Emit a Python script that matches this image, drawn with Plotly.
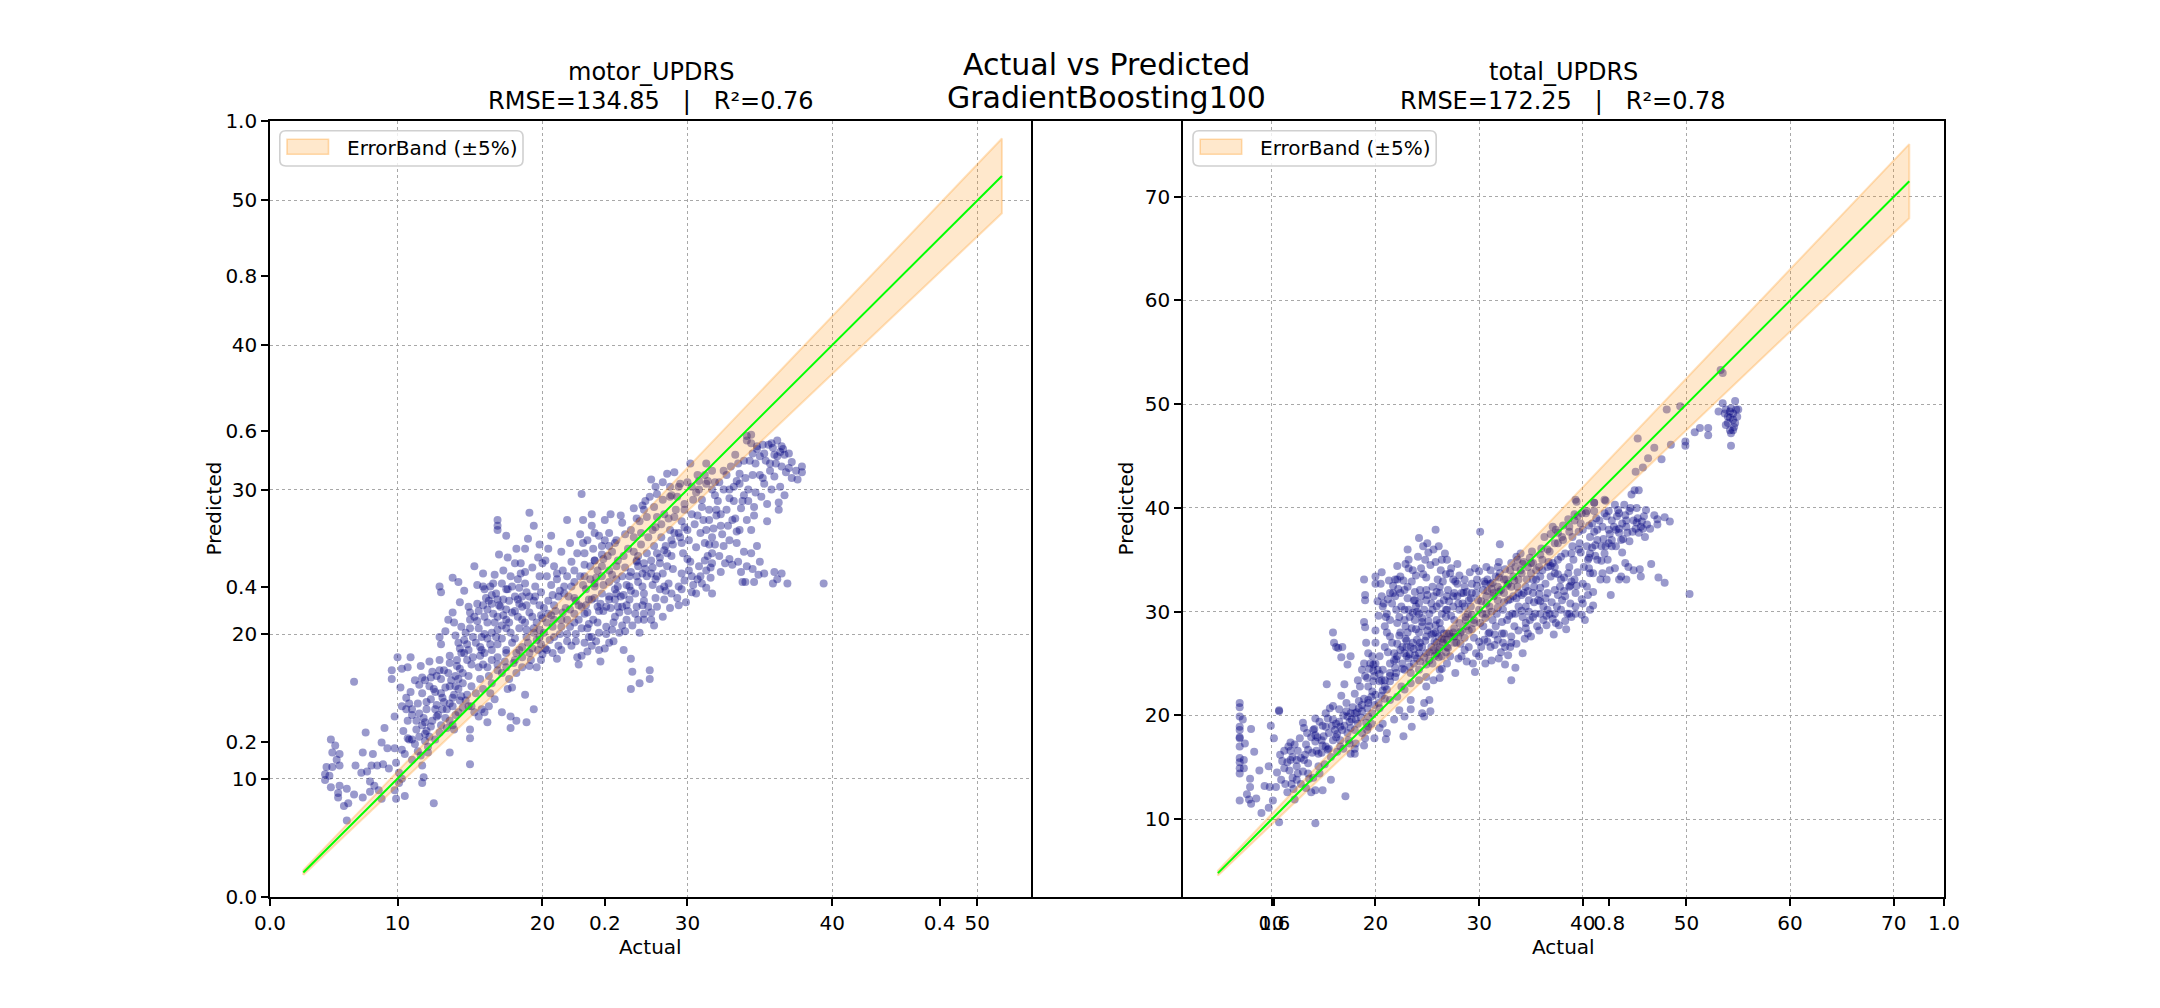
import plotly.graph_objects as go

W, H = 2160, 1008
FONT = "DejaVu Sans"

# ---------------- data ----------------
motor_pairs = [
(5.4,12.7),(5.7,12.3),(5.5,11.8),(6.0,11.7),(5.8,11.3),(5.1,10.8),(5.5,10.8),(6.0,10.9),(5.0,10.3),(5.3,10.2),(5.0,9.9),(5.4,9.4),(6.0,9.5),(5.9,9.0),(5.9,8.7),(6.5,9.3),(6.3,8.1),(6.6,8.3),(6.5,7.1),(7.0,8.9),(7.0,16.7),(7.6,8.7),(7.1,10.9),(7.6,11.8),(7.8,13.2),(7.5,10.4),(7.9,10.5),(8.2,10.9),(8.6,10.9),(9.0,11.0),(9.4,10.7),(8.3,11.7),(8.1,9.8),(8.4,9.5),(8.7,9.2),(8.1,9.1),(8.9,8.6),(8.9,12.5),(9.1,13.5),(9.3,12.1),(9.6,17.5),(9.6,16.9),(9.8,14.3),(9.8,12.1),(9.9,11.1),(9.8,9.2),(9.9,8.6),
(10.0,18.4),(10.3,17.6),(10.7,17.7),(10.9,18.4),(10.1,10.4),(10.3,10.0),(10.5,8.8),(10.4,13.3),(10.6,14.8),(10.7,14.0),(10.8,12.7),(10.3,12.0),(11.0,14.4),(11.2,12.4),(11.5,14.5),(11.6,17.8),(11.7,17.0),(11.8,10.1),(11.7,9.7),(12.5,8.3),(12.0,14.8),(11.9,13.9),(12.0,13.3),(11.9,13.1),(11.4,11.9),(11.6,11.6),(12.1,12.2),(12.2,18.1),(12.4,17.4),(12.5,16.2),(12.7,15.1),(12.9,18.2),(12.9,17.5),(13.0,16.9),(12.9,19.8),(13.0,19.3),(13.1,15.6),(13.1,14.8),(13.0,13.7),(13.6,18.5),(13.5,17.3),(13.6,16.4),(13.8,15.6),(13.8,15.0),(13.6,11.8),(13.8,21.5),(13.9,20.8),(14.0,19.9),(14.2,19.4),(14.1,17.8),(14.2,16.9),(14.2,16.2),(14.3,15.4),(14.5,14.9),(14.0,14.4),(13.8,13.7),(12.9,23.3),(13.0,22.9),(13.8,23.9),(14.2,23.6),(14.4,20.5),(14.6,18.7),(14.9,21.9),(15.0,21.5),(15.0,21.0),(14.9,18.9),(14.8,18.2),(14.9,17.1),(14.8,15.8),(14.9,15.0),(15.0,13.4),(15.0,12.8),(15.0,11.0),
(15.5,23.4),(15.5,22.1),(15.5,20.9),(15.7,19.1),(15.7,18.5),(15.6,17.7),(15.7,16.9),(15.6,14.3),(15.9,23.3),(16.1,22.5),(16.2,21.7),(16.2,20.8),(16.2,19.7),(16.2,17.7),(16.3,17.1),(16.3,15.0),(16.2,13.9),(16.4,23.3),(16.7,24.1),(16.8,22.8),(16.9,27.9),(16.9,27.5),(16.9,27.2),(17.0,25.5),(16.9,21.2),(16.9,20.3),(16.9,19.3),(16.9,18.4),(16.9,17.5),(16.7,15.5),(17.2,23.5),(17.3,22.4),(17.5,26.8),(17.6,23.1),(17.5,21.7),(17.5,20.4),(17.5,18.9),(17.4,18.1),(17.2,14.6),(17.8,14.3),(17.8,13.5),(17.6,16.2),(17.9,16.3),(18.1,24.9),(18.1,22.6),(18.1,21.6),(18.1,19.7),(18.2,18.7),(18.2,14.0),(18.5,24.2),(18.5,24.9),(18.6,22.6),(18.6,21.0),(18.8,15.8),(18.8,25.9),(18.8,23.5),(18.9,13.9),(18.9,22.0),(19.0,19.4),(19.1,28.4),(19.1,22.6),(19.1,21.5),(19.4,14.8),(19.4,27.5),(19.5,22.6),(19.6,20.8),(19.6,19.6),(19.7,18.9),(19.8,24.0),(19.9,22.9),(20.0,24.9),
(20.1,21.8),(20.1,20.1),(20.2,19.0),(20.4,25.9),(20.4,22.3),(20.6,21.3),(20.7,20.5),(20.8,19.8),(20.8,24.7),(21.0,23.8),(21.1,22.6),(21.1,19.2),(21.3,21.0),(21.4,24.4),(21.5,23.3),(21.6,21.8),(21.7,27.9),(21.7,20.0),(21.9,26.3),(22.0,25.0),(22.2,23.6),(22.2,22.5),(22.2,20.8),(22.3,19.5),(22.4,18.4),(22.5,17.9),(22.7,29.7),(22.8,26.3),(22.8,27.9),(22.9,25.6),(22.9,24.8),(23.0,23.1),(23.1,21.5),(23.1,20.4),(23.2,19.8),(23.4,28.3),(23.4,19.2),(23.5,25.9),(23.6,25.1),(23.6,27.0),(23.7,23.9),(23.8,21.9),(23.8,20.8),(24.0,18.1),(24.1,26.1),(24.1,24.7),(24.2,23.4),(24.2,21.6),(24.3,27.9),(24.4,20.0),(24.5,25.4),(24.6,22.6),(24.6,27.0),(24.7,28.3),(24.8,24.1),(24.9,19.5),(25.0,26.3),(25.0,21.2),(25.1,24.7),(25.2,23.3),(25.3,20.1),(25.4,28.2),(25.5,27.7),(25.6,18.9),(25.6,25.4),(25.7,20.2),(25.8,22.0),(25.9,25.9),(26.0,24.0),(26.1,18.3),(26.2,17.4),(26.1,16.2),(26.3,26.7),(26.3,28.7),(26.4,22.8),(26.5,25.1),(26.6,21.0),(26.6,24.7),(26.7,20.1),(26.7,16.6),(26.8,27.0),(26.9,23.3),(27.0,28.6),(27.0,22.3),(27.1,29.2),(27.2,25.6),(27.3,21.9),(27.4,17.5),(27.4,16.9),(27.5,30.7),(27.5,24.2),(27.5,21.5),(27.6,27.2),(27.7,26.1),(27.8,23.8),(27.9,29.7),(27.9,28.1),(28.1,24.9),(28.1,23.1),(28.2,26.7),(28.3,24.2),(28.4,28.3),(28.5,26.1),(28.6,31.1),(28.6,24.7),(28.7,23.5),(28.8,29.5),(28.8,27.2),(28.9,25.4),(29.1,31.2),(29.1,27.0),(29.2,28.6),(29.4,22.0),(29.5,30.4),(29.6,24.2),(29.6,26.3),(29.6,23.1),(29.7,25.6),(29.8,28.6),
(30.0,25.2),(30.1,26.5),(30.1,24.4),(30.2,31.8),(30.3,22.9),(30.4,29.3),(30.6,22.8),(30.7,28.2),(30.8,30.6),(30.9,27.0),(31.0,29.3),(31.0,23.5),(31.1,27.9),(31.2,25.1),(31.3,23.2),(31.4,30.6),(31.5,28.6),(31.5,26.2),(31.6,24.6),(31.7,22.8),(31.7,25.6),(31.9,29.6),(31.9,30.5),(32.0,28.2),(32.1,29.2),(32.3,27.5),(32.5,30.0),(32.6,24.9),(32.9,30.0),(33.1,27.9),(33.1,24.8),(33.2,29.2),(33.3,32.4),(33.4,27.1),(33.5,31.8),(33.6,31.1),(33.7,24.3),(33.8,29.2),(33.9,29.6),(34.0,23.6),(34.1,24.7),(34.1,33.4),(34.2,30.0),(34.4,27.2),(34.4,33.8),(34.5,32.5),(34.6,28.2),(34.6,23.6),(34.7,31.8),(34.8,32.8),(34.9,24.1),(35.0,31.0),(35.2,33.1),(35.3,30.4),(35.4,32.0),(35.5,27.8),(35.6,33.1),(35.7,31.3),(35.8,33.2),(35.9,23.5),(36.0,24.3),(36.0,30.9),(36.1,31.8),(36.2,33.4),(36.3,28.6),(36.3,29.1),(36.4,32.6),(36.5,31.6),(36.5,24.2),(36.6,32.8),(36.7,29.6),(36.7,32.4),(36.9,23.5),(37.0,32.5),(37.2,30.8),(37.6,30.7),(37.9,31.6),(37.9,31.2),(39.4,23.5),
(16.9,17.9),(17.5,17.7),(18.1,18.2),(18.4,18.9),(18.9,19.8),(19.4,20.4),(20.0,21.1),(20.8,22.0),(21.5,22.8),(22.0,23.3),(22.6,24.0),(23.3,24.7),(23.6,25.1),(24.1,25.5),(24.6,26.1),(25.1,26.5),(25.7,26.9),(26.1,27.2),(26.7,27.8),(27.2,28.1),(27.7,28.8),(28.3,29.3),(28.9,29.6),(29.4,30.2),(30.0,30.5),(30.6,29.8),(31.3,30.4),(34.1,33.7),(34.4,33.2),
(26.1,24.3),(26.5,25.0),(26.6,25.4),(26.9,24.2),(27.2,24.0),(27.6,23.4),(27.9,24.0),(28.4,23.3),(27.0,22.8),(25.8,23.4),(25.4,22.6),(25.0,22.4),(24.4,21.9),(23.9,21.6),(23.5,21.0),(23.2,20.7),(22.7,20.4),(22.3,20.0),(21.7,19.5),(21.3,18.9),(20.7,18.7),(20.3,18.9),
(16.5,22.1),(17.1,21.9),(17.7,22.3),(18.3,22.4),(18.6,21.9),(17.9,21.5),(17.5,21.0),(16.7,20.8),(16.0,21.2),(15.6,20.4),(15.2,19.8),(14.6,19.6),(14.4,18.7),(14.1,18.2),(13.6,18.0),(13.2,17.5),(12.7,17.1),(12.2,16.4),(11.7,15.9),(11.4,15.2),(11.0,14.8),(12.3,15.5),(12.8,14.4),(13.4,14.8),(13.6,15.2),(14.0,16.4),(14.5,16.6),
(10.7,12.8),(11.0,12.7),(11.5,12.9),(11.9,12.6),(12.2,12.9),(12.6,12.7),(11.3,13.4),(11.7,13.7),(12.4,14.0),(12.7,14.3),(13.3,14.2),(13.6,14.0),(13.9,13.4),(12.1,11.8),(11.7,10.9),(11.0,11.3),(10.5,11.7),(10.1,9.7),
(14.4,15.7),(14.7,15.4),(15.1,15.0),(15.3,14.6),(15.8,14.8),(16.0,14.6),(15.1,16.4),(15.4,15.9),(15.9,16.2),(16.4,15.9),(16.5,16.6),(14.5,17.3),(15.1,17.9),(15.9,17.9),(16.5,18.2),(17.2,17.3),(17.7,16.9),(18.2,17.3),(18.6,17.7),(19.1,17.8),(19.6,17.7),(19.9,18.2),
(16.0,23.1),(16.5,22.7),(17.5,23.1),(17.9,23.3),(18.4,23.2),(18.9,22.9),(19.4,22.3),(19.8,22.0),(17.7,20.8),(18.4,20.4),(18.9,20.3),(19.4,20.1),(19.8,20.3),(16.5,20.1),(15.8,19.8),(17.2,19.7),(17.9,19.4),(18.6,19.1),(19.1,18.7),(17.5,18.7),(16.5,18.9),(16.0,18.7),
(20.3,24.0),(21.0,24.2),(21.7,24.0),(22.2,24.4),(22.9,24.0),(23.6,23.5),(24.1,22.8),(24.6,22.4),(25.1,22.8),(25.5,21.9),(26.0,22.4),(26.5,21.9),(27.0,21.4),(27.5,21.0),(27.9,21.9),(28.4,22.4),(28.9,22.8),(29.4,23.3),(29.8,23.7),(30.3,24.0),(30.8,24.7),(31.3,24.4),(31.7,24.9),(32.2,25.4),(32.5,26.1),(32.9,26.5),(33.4,26.3),(33.9,25.7),(34.4,25.6),(34.8,26.1),(33.6,27.2),(34.1,27.9),(34.6,28.8),(35.1,29.5),(35.5,29.0),(35.8,30.0),(36.4,30.2),(32.7,28.6),(33.2,30.2),(33.6,30.4),(32.5,31.3),(31.7,31.3),(31.3,31.8),(30.8,30.0),(30.3,28.3),(29.8,27.4),(29.4,27.0),(28.9,26.5),(28.4,25.8),(27.9,25.6),(27.5,25.1),(27.0,24.9),(26.5,24.0),(26.0,23.3),(25.5,24.0),(25.1,23.8),(24.6,24.4),(24.1,24.0),(23.6,23.3),(23.2,22.4),(22.7,21.9),(22.2,21.4),(21.7,21.0),(21.3,20.5),(20.8,21.0),(20.3,20.8),(19.8,19.8),(23.4,22.4),(23.9,20.1),(24.4,20.5),(24.9,20.8),(25.3,21.5),(25.8,21.0),(23.4,19.8),(22.9,19.4),(23.9,18.9),(24.6,19.4),(31.7,26.7),(31.3,27.2),(30.5,27.6),(31.0,28.8),(32.0,28.6),(31.5,27.9),
(11.5,16.5),(11.9,16.8),(12.3,17.0),(12.6,16.0),(13.0,15.9),(13.3,16.3),(13.7,16.8),(14.0,17.1),(14.3,17.6),(12.0,15.3),(12.6,14.8),(13.2,15.3),(13.9,15.8),(14.2,14.6),(11.3,14.0),(11.8,14.2),(12.3,13.6),(12.9,13.2),(13.4,13.5),(10.9,16.0),(11.2,16.8),(10.6,15.6),(10.3,15.0),(10.2,16.3),(10.8,15.2),
(14.3,19.0),(14.7,20.1),(15.0,20.4),(15.3,21.2),(15.6,21.6),(15.9,22.0),(16.3,22.3),(16.6,21.4),(16.0,20.0),(15.4,19.4),(14.8,19.3),(15.2,18.4),(15.8,18.9),(16.4,19.3),(16.8,19.8),(17.2,20.6),(17.0,22.0),(16.6,23.5),(15.9,24.2),(15.3,24.7),(14.6,23.0),(14.3,22.2),(13.5,21.0),(13.3,20.2),
(17.3,24.4),(17.8,24.0),(18.3,23.8),(18.8,24.3),(19.3,24.6),(19.7,25.3),(20.2,25.1),(20.6,23.4),(21.2,23.0),(21.8,22.6),(21.4,21.5),(20.9,21.6),(20.4,21.4),(19.9,21.3),(19.3,21.2),(18.8,20.8),(18.3,21.2),(17.8,20.1),(18.0,18.0),(18.6,18.4),(19.3,19.0),(19.9,19.3),(20.5,19.6),(21.2,20.0),(21.9,20.5),(22.5,21.0),(22.9,21.4),(22.3,22.3),(21.9,21.7),(20.7,22.7),(19.5,23.3),(18.4,22.1),(17.3,21.3),(16.9,22.4),(17.6,25.3),(18.2,25.9),(19.0,26.6),(19.8,26.2),(20.6,26.8),(21.3,25.7),(20.0,18.6),(19.2,18.2),(22.0,19.2),(21.0,18.3),
(22.4,25.6),(22.6,26.9),(23.1,26.5),(23.4,27.5),(23.9,26.8),(24.3,26.5),(24.8,25.7),(25.2,25.1),(25.7,24.6),(26.3,25.7),(26.8,26.2),(27.3,26.7),(27.8,27.4),(28.2,27.6),(28.7,28.0),(29.1,28.1),(29.6,27.8),(30.0,27.2),(29.5,26.7),(29.0,26.2),(28.6,25.6),(28.1,25.3),(27.6,24.6),(27.1,24.5),(26.6,23.6),(26.1,23.0),(25.6,22.7),(25.0,23.1),(24.6,23.6),(24.2,25.2),(23.8,24.4),(23.3,23.8),(22.8,23.4),(22.5,22.0),(23.0,22.0),(23.6,22.5),(24.0,22.1),(24.7,21.8),(25.2,21.9),(25.9,21.6),(26.4,21.4),(27.0,21.0),(27.7,20.6),(28.3,21.2),(28.8,21.8),(29.3,22.5),(29.9,22.2),(30.4,23.4),(30.9,24.0),(31.4,25.4),(31.9,26.2),(32.4,26.9),(32.8,27.5),(33.3,28.0),(33.7,28.7),(34.2,29.2),(34.7,29.8),(35.2,30.8),(35.7,31.8),(36.2,32.3),(36.8,31.2),(37.2,31.9),(35.9,32.9),(35.0,32.3),(34.5,31.0),(34.0,30.8),(33.4,30.6),(32.9,29.4),(32.3,28.3),(31.8,27.3),(31.2,26.3),(30.6,26.0),(30.2,25.0),(30.7,23.8),(31.6,23.9),(32.3,24.3),(32.9,25.2),(33.5,25.0),(34.5,24.5),(35.3,24.2),(35.0,25.0),(33.8,23.6),(36.2,23.8),(29.0,24.5),(28.5,23.0),(27.8,22.5),(26.9,22.0),(26.2,20.6),(25.5,20.6),(24.8,20.3),(24.3,19.0),(23.7,19.5),(23.1,18.8),(22.7,18.5),
(26.5,28.0),(26.9,28.9),(27.4,29.5),(27.8,30.2),(28.3,30.5),(28.8,30.2),(29.3,29.5),(29.8,29.0),(30.3,30.2),(30.7,31.0),(31.2,31.0),(31.7,30.0),(32.2,30.5),(32.7,31.0),(33.0,31.6),(33.9,32.0),(34.3,32.0),(34.8,33.0),(35.3,32.5),(36.0,32.4),(36.5,33.0),(37.0,31.5),(37.5,31.3),
]

total_pairs = [
(6.9,21.2),(6.9,20.8),(6.9,19.9),(6.9,18.9),(6.9,18.6),(6.9,17.9),(6.9,17.8),(6.9,17.0),(6.9,15.9),(6.9,15.5),(6.9,14.9),(6.9,14.4),(7.3,15.7),(7.3,14.9),(6.9,11.8),(8.0,18.7),(7.9,13.9),(7.9,13.1),(8.0,11.5),(7.6,12.4),(7.8,11.9),
(9.9,19.0),(10.2,17.8),(9.7,15.1),(9.3,13.2),(9.8,13.1),(10.4,13.1),(9.7,11.1),(10.7,9.7),(10.7,20.5),(10.7,20.4),
(11.2,16.6),(11.8,16.6),(11.8,17.4),(12.5,16.6),(11.2,14.9),(11.7,14.7),(11.3,13.4),(11.9,13.4),(12.2,11.9),(12.4,15.1),(12.5,14.4),(13.0,19.3),(13.1,18.8),(13.2,16.2),(13.1,15.7),(13.6,13.9),(13.5,16.7),(13.8,17.9),(14.2,12.8),(13.8,12.6),(14.2,9.6),(14.2,19.7),(14.1,18.7),(14.2,18.1),(14.2,17.5),(14.6,19.4),(14.8,17.6),(14.9,17.1),(14.3,16.6),(14.8,16.4),(15.3,23.0),(15.2,18.9),(15.4,16.7),(15.7,13.8),(14.9,12.8),(15.5,16.8),(15.6,20.7),(15.9,28.0),(16.0,27.0),(16.2,26.6),(16.4,26.5),(16.8,26.6),(16.7,25.6),(16.1,18.6),(16.2,17.9),(16.2,19.2),(16.5,19.4),(16.6,17.6),(17.0,23.0),(16.7,21.9),(16.9,20.0),(17.1,12.2),(17.2,20.4),(17.6,25.7),(17.3,24.9),(17.6,20.2),(17.5,19.4),(17.5,17.3),(17.7,19.6),(18.0,20.2),(18.1,17.3),(18.0,16.3),(18.0,16.8),(18.2,20.3),(18.4,20.7),(18.5,22.8),(18.7,20.4),(18.9,33.1),(19.0,31.6),(19.0,31.1),(18.9,29.0),(19.0,28.5),(19.1,27.0),(18.9,25.0),(19.0,23.8),(19.2,23.6),(19.3,21.2),(19.2,20.7),(19.3,19.9),(19.2,18.6),(19.0,17.8),(18.9,17.1),(19.5,25.0),(19.7,25.7),(19.8,24.9),(19.9,23.8),(19.8,23.3),(19.7,22.3),(19.9,17.8),(20.0,33.4),(20.0,32.7),(20.0,28.2),(20.2,24.4),(20.4,25.7),(20.5,32.7),(20.6,31.5),(20.7,30.5),(20.6,23.4),(20.4,20.7),(20.4,18.8),(20.7,19.2),(20.7,22.4),(20.9,21.6),(21.0,29.5),(21.1,29.8),(21.2,26.1),(21.0,17.7),(21.4,24.1),(21.6,30.8),(21.7,31.8),(21.8,26.0),(21.8,25.3),(21.9,33.1),(22.0,30.2),(22.0,24.1),(22.1,33.1),(22.1,28.9),(22.3,29.5),(22.3,20.5),(22.4,33.4),(22.5,22.8),(22.5,30.5),(22.6,25.0),(22.7,18.0),(22.8,29.2),(22.8,32.1),(22.9,27.4),(23.0,26.6),(23.0,25.7),(23.1,31.3),(23.1,36.0),(23.2,35.0),(23.2,34.2),(23.2,30.2),(23.3,24.7),(23.4,21.5),(23.5,18.9),(23.5,28.4),(23.6,27.0),(23.8,25.8),(23.8,31.9),(23.8,31.1),(23.9,30.5),(24.0,27.3),(24.1,35.3),(24.2,37.1),(24.2,26.0),(24.2,29.8),(24.3,32.1),(24.5,29.4),(24.5,26.6),(24.6,33.6),(24.7,19.9),(24.7,21.2),(24.8,35.0),(24.9,31.1),(24.9,23.7),(25.0,28.2),(25.1,35.7),(25.2,26.1),(25.3,20.4),(25.6,36.0),(25.6,31.5),(25.6,27.9),(25.7,25.7),(25.8,37.9),(25.9,30.5),(26.0,33.1),(26.1,36.3),(26.1,26.3),(26.2,23.6),(26.2,28.9),(26.2,31.8),(26.4,24.5),(26.6,31.1),(26.6,27.3),(26.7,35.6),(26.8,30.2),(26.9,35.0),(26.9,26.6),(27.0,32.1),(27.1,27.9),(27.2,25.7),(27.3,34.2),(27.5,33.1),(27.5,30.5),(27.6,29.2),(27.7,24.1),(27.8,27.0),(27.9,31.5),(28.0,25.5),(28.0,27.6),(28.1,30.2),(28.3,28.2),(28.4,30.8),(28.5,31.8),(28.6,26.3),(28.7,29.2),(28.8,31.9),(28.9,29.8),(29.0,28.2),(29.2,30.5),(29.3,31.8),(29.5,28.9),(29.7,26.0),(29.8,33.1),(29.9,31.1),(30.0,33.9),(30.1,37.7),(30.2,26.6),(30.3,29.8),(30.4,28.6),(30.5,27.3),(30.6,32.7),(30.7,31.5),(30.7,29.8),(30.8,33.1),(30.9,27.9),(31.0,30.5),(31.1,34.0),(31.2,25.3),(31.3,29.2),(31.4,31.8),(31.5,27.8),(31.6,33.4),(31.7,29.8),(31.8,31.1),(31.8,32.4),(31.9,34.8),(32.0,36.5),(32.0,33.7),(32.1,26.1),(32.2,27.9),(32.3,30.2),(32.4,31.8),(32.5,26.6),(32.5,24.9),(32.6,33.1),(32.7,29.2),(32.8,31.1),(33.0,34.0),(33.1,27.0),(33.1,23.4),(33.2,29.8),(33.3,31.5),(33.4,28.6),(33.5,34.3),(33.6,35.3),(33.7,32.4),(33.8,30.5),(33.8,33.1),(34.0,35.6),(34.1,33.7),(34.2,29.5),(34.3,31.8),(34.5,28.4),(34.5,30.5),(34.6,33.1),(34.7,27.9),(34.8,31.1),(34.9,29.2),(35.0,33.7),(35.1,35.8),(35.2,31.8),(35.4,29.8),(35.5,33.1),(35.6,28.6),(35.7,31.1),(35.9,32.3),(36.0,36.1),(36.1,34.0),(36.2,29.2),(36.2,30.5),(36.4,32.7),(36.6,31.8),(36.8,35.8),(36.8,29.8),(36.9,33.4),(37.1,38.2),(37.2,27.8),(37.3,32.1),(37.3,33.7),(37.5,30.5),(37.6,36.6),(37.6,35.0),(37.8,32.4),(38.0,31.1),(38.1,36.9),(38.3,31.5),(38.4,28.3),(38.5,29.8),(38.6,33.7),(38.7,37.7),(38.8,30.8),(39.0,36.3),(39.1,35.0),(39.2,33.1),(39.3,31.8),(39.3,29.8),(39.4,40.6),(39.5,39.2),(39.6,37.7),(39.7,36.6),(39.8,35.7),(39.9,29.7),(40.0,32.7),(40.2,29.2),(40.3,39.5),(40.4,32.4),(40.5,35.0),(40.6,34.2),(40.7,33.7),(40.7,30.2),(40.9,38.5),(41.0,31.9),(41.1,37.7),(41.1,40.5),(41.2,36.4),(41.4,36.9),(41.6,38.8),(41.8,36.3),(41.9,33.7),(42.1,40.8),(42.2,36.3),(42.3,39.2),(42.4,35.0),(42.5,37.9),(42.5,39.7),(42.6,34.0),(42.7,31.6),(42.8,36.3),(43.0,38.2),(43.1,40.3),(43.1,34.2),(43.2,37.9),(43.3,39.2),(43.4,39.8),(43.5,33.1),(43.7,36.9),(43.8,38.5),(44.0,40.3),(44.1,34.7),(44.2,33.1),(44.2,38.8),(44.3,37.6),(44.5,39.7),(44.7,41.3),(44.8,37.7),(44.9,34.0),(45.0,41.7),(45.2,40.0),(45.3,39.0),(45.4,37.6),(45.5,34.1),(45.6,33.4),(45.7,38.7),(45.9,39.2),(46.0,37.2),(46.2,38.4),(46.6,34.6),(46.9,39.3),(47.3,33.3),(47.2,38.4),(47.9,39.1),(47.9,32.8),(48.4,38.7),(50.3,31.7),
(39.3,40.8),(40.4,39.7),(41.1,40.5),(42.2,40.7),(45.4,41.7),(45.1,43.5),(45.8,43.9),(46.3,44.8),(46.9,45.8),(47.6,44.7),(48.5,46.1),(45.3,46.7),(48.1,49.5),(49.4,49.8),(49.9,46.4),(49.9,46.0),(50.8,47.3),(51.3,47.7),(52.1,47.7),(52.1,47.0),(53.3,53.3),(53.5,53.0),
(53.1,49.3),(53.5,50.1),(53.7,49.1),(53.8,49.5),(54.0,48.8),(54.2,49.3),(54.3,49.6),(54.5,48.5),(54.5,49.1),(54.7,50.3),(54.7,48.2),(54.8,49.5),(54.0,48.2),(54.2,47.5),(54.3,47.2),(54.5,47.5),(53.8,48.0),(54.3,46.0),(54.9,48.8),(55.0,49.5),(54.2,48.7),(54.6,47.8),
(18.7,21.0),(19.3,21.5),(20.0,22.0),(20.9,22.8),(21.4,23.3),(21.9,23.7),(22.8,24.4),(23.7,25.0),(24.3,25.2),(24.9,26.0),(25.4,26.6),(25.9,27.0),(26.4,27.4),(26.9,27.9),(27.6,28.4),(28.1,28.9),(28.7,29.5),(29.3,29.7),(30.0,30.2),(30.7,30.8),(31.4,31.5),(32.1,32.1),(32.8,32.7),(33.3,33.4),(34.0,34.0),(34.7,34.3),(35.2,34.7),(35.9,35.5),(36.6,36.0),(37.3,36.6),(38.0,37.2),(38.7,38.2),(39.2,38.8),(39.9,39.5),(41.1,39.7),
(25.7,27.1),(26.2,26.6),(26.8,26.1),(25.9,26.0),(26.4,25.7),(26.9,27.3),(27.3,27.6),(26.1,27.6),(25.6,26.3),(25.2,25.3),(24.9,24.9),(26.6,27.9),(27.6,27.0),
(21.4,31.8),(21.9,31.5),(22.4,31.8),(23.1,32.4),(23.7,31.1),(24.2,30.8),(24.7,30.2),(25.2,29.8),(24.5,28.6),(25.2,28.6),(25.9,29.2),(26.4,29.8),(26.9,30.2),(26.2,30.8),(25.5,30.2),(24.9,32.1),(25.5,32.4),(26.2,32.4),(26.9,31.5),(27.6,31.8),(28.3,31.8),(27.9,32.7),(28.6,33.1),(29.3,32.7),(29.7,31.8),(29.0,31.1),(22.8,30.2),(23.3,29.5),(23.8,29.2),(23.1,28.0),(24.2,28.0),(24.9,27.6),(23.4,26.6),(24.2,26.6),(22.8,26.0),(21.4,27.6),(20.9,28.6),(22.1,26.9),(21.4,29.2),(22.4,28.0),(20.0,27.0),(20.9,26.6),(19.3,26.0),(20.0,25.0),(20.7,24.4),(21.4,25.0),(22.1,25.7),(23.4,24.1),(24.2,24.4),(26.2,24.4),(26.9,25.0),(28.3,25.7),(29.0,26.6),(30.0,25.7),(31.1,26.6),(31.8,27.3),(32.4,27.9),(33.1,27.6),(33.8,28.2),(34.5,28.9),(35.2,29.5),(35.9,29.8),(36.6,30.2),(37.3,29.8),(37.9,30.2),(38.7,29.8),(39.3,30.5),(40.0,30.8),(38.7,32.4),(37.9,33.1),(37.3,34.3),(36.6,34.3),(35.9,33.4),(35.2,33.1),(34.5,32.4),(33.8,31.8),(33.1,32.4),(32.4,33.1),(31.8,34.3),(31.1,32.7),(30.4,32.1),(30.7,34.3),(40.7,35.6),(41.4,35.0),(42.1,35.6),(42.8,36.9),(43.5,37.6),(44.2,38.2),(44.9,38.8),(45.6,38.2),(42.8,38.8),(42.1,39.5),(43.5,39.5),(41.4,37.9),(40.7,37.2),(40.0,37.9),(40.4,36.3),(41.7,33.1),(41.0,33.7),(42.3,33.1),(43.7,33.4),(44.4,34.3),(38.7,34.3),(38.3,35.6),(39.0,37.2),(37.6,37.6),
(15.2,20.2),(15.9,19.6),(16.6,18.9),(17.3,18.3),(18.0,18.6),(18.3,19.2),(17.3,19.9),(15.9,17.6),(15.2,17.0),(14.5,16.3),(13.5,15.4),(12.4,15.7),(11.8,15.7),(12.4,13.8),(13.5,14.4),(14.5,15.1),(16.6,17.0),(17.6,16.3),(18.7,18.3),(19.3,18.9),(19.7,20.2),(18.0,22.1),(18.3,23.4),(19.3,22.8),(18.7,24.4),(20.4,23.3),(21.1,22.5),(21.4,21.5),(22.1,21.8),(22.8,22.5),(23.4,23.1),(24.2,23.4),(24.9,22.8),(25.6,23.4),(25.2,21.5),(24.5,20.2),(23.4,20.6),(22.8,19.9),(21.8,19.6),(21.1,18.3),
(10.8,16.2),(11.5,15.5),(12.0,16.0),(12.8,15.9),(13.3,17.2),(13.9,16.4),(14.4,17.9),(15.0,18.0),(15.5,18.3),(15.8,19.0),(16.3,18.2),(16.8,18.6),(17.0,19.0),(17.6,18.8),(18.1,19.6),(18.6,19.8),(19.1,19.3),(19.6,19.2),(19.9,21.0),(20.3,21.2),(20.6,21.9),(19.6,21.8),(18.9,21.6),(18.4,21.4),(17.8,20.8),(17.2,21.2),(16.5,20.6),(15.9,20.9),(15.4,19.7),(14.9,19.0),(14.0,18.6),(13.4,18.3),(12.7,17.8),(12.2,17.2),(11.6,17.0),(11.0,15.6),(10.5,14.5),(10.9,13.8),(11.5,12.6),(12.1,12.9),(12.8,13.4),(13.3,13.0),(14.0,14.0),(14.6,14.4),(15.1,15.3),(15.7,16.0),(16.3,16.5),(16.9,16.8),(17.4,17.6),(13.0,14.6),(12.0,14.0),(10.1,11.8),(8.5,12.0),(9.0,10.6),(8.3,16.5),(7.4,17.3),(7.2,19.6),(8.8,14.7),
(20.3,29.6),(20.8,30.8),(21.2,31.2),(21.7,32.5),(22.2,32.2),(22.7,33.0),(23.5,32.9),(23.9,33.5),(24.4,34.2),(24.9,33.3),(25.3,34.5),(25.8,34.8),(26.3,34.0),(26.8,33.6),(27.2,33.7),(27.7,32.9),(28.1,33.5),(28.6,32.4),(29.1,33.8),(29.6,34.2),(27.9,34.6),(26.4,35.0),(25.0,36.6),(24.6,36.3),(23.6,34.0),(22.9,34.6),(22.1,34.4),(21.3,33.0),(20.6,33.8),(20.2,31.0),(21.1,28.0),(21.6,27.0),(22.3,27.7),(22.9,28.6),(23.6,29.9),(24.0,30.0),(24.4,31.5),(25.0,31.6),(25.4,30.8),(25.9,31.9),(26.5,32.9),(27.1,31.0),(27.5,31.5),(28.0,30.8),(28.6,30.5),(29.2,31.3),(27.3,29.6),(26.8,29.5),(26.3,28.3),(25.8,28.7),(25.4,27.8),(24.8,27.2),(24.3,27.0),(23.7,26.4),(23.2,25.5),(22.6,24.5),(21.9,24.6),(21.4,23.8),(20.9,23.4),(20.4,24.0),(19.8,24.3),(19.4,24.5),(22.0,25.4),(22.4,26.3),(23.0,27.2),(23.9,28.3),(24.5,29.0),(25.1,29.1),(25.8,28.0),(26.5,27.0),(27.0,26.5),(27.6,27.6),(28.2,28.0),(28.8,28.6),(29.5,29.2),(27.5,28.0),(26.1,25.6),(25.5,25.0),(24.7,25.6),(24.0,25.5),(23.3,25.9),(22.6,26.6),
(30.2,31.0),(30.8,32.0),(31.3,32.8),(31.9,33.3),(32.5,34.1),(33.1,34.7),(33.7,35.0),(34.2,34.6),(34.9,35.2),(35.5,34.0),(36.1,35.0),(36.7,34.8),(37.1,34.7),(37.6,33.6),(38.2,33.3),(38.9,32.9),(39.5,33.8),(40.1,34.3),(40.6,35.2),(41.2,35.4),(41.8,34.9),(42.5,36.6),(43.2,36.3),(43.8,35.7),(44.5,36.8),(45.1,38.0),(30.1,28.9),(30.6,29.4),(31.2,30.0),(31.8,30.4),(32.4,30.9),(33.0,31.2),(33.6,31.3),(34.1,31.6),(34.7,32.0),(35.3,32.4),(35.8,31.7),(36.4,31.3),(37.0,30.9),(37.6,31.6),(38.2,32.0),(38.8,32.5),(39.4,32.5),(39.9,31.2),(40.5,31.6),(41.0,30.6),(31.0,28.0),(31.6,28.6),(32.2,29.0),(32.9,29.6),(33.5,29.8),(34.1,30.1),(34.8,30.0),(35.3,30.9),(35.9,31.0),(36.5,29.6),(37.1,29.3),(37.7,28.7),(38.3,29.1),(38.9,29.5),(29.5,27.5),(30.0,27.1),(30.8,27.1),(31.5,26.8),(32.3,27.0),(33.0,26.6),(33.6,26.9),(34.4,27.4),(35.0,27.6),(35.8,28.2),(36.5,28.7),(37.4,28.9),(32.8,25.8),(31.9,25.5),(30.6,25.0),(29.4,25.0),(28.8,25.2),(33.5,24.6),(34.2,26.0),(29.6,24.2),(28.2,26.9),(29.3,28.3),(28.6,27.5),
(36.3,37.2),(36.9,37.5),(37.4,37.9),(38.1,38.3),(38.6,38.9),(39.2,39.4),(39.8,38.5),(40.6,38.3),(41.3,39.0),(41.9,38.2),(42.6,37.5),(43.5,38.0),(44.1,39.3),(44.6,40.0),(45.2,38.6),(45.8,38.0),(46.5,38.0),(47.2,38.9),(46.1,39.8),(43.9,37.0),(42.0,37.0),(40.9,36.2),(39.6,36.0),(38.9,35.6),(37.9,35.3),(36.9,34.4),(35.8,34.3),(35.0,34.7),(34.3,34.8),(33.4,33.0),(32.7,32.5),(31.9,31.9),(31.2,32.2),(30.5,32.9),(29.8,32.5),
]

motor_actual = [p[0] for p in motor_pairs]
motor_pred = [p[1] for p in motor_pairs]
total_actual = [p[0] for p in total_pairs]
total_pred = [p[1] for p in total_pairs]

motor_line = [3.5, 51.7]      # ideal y = x line span
total_line = [4.8, 71.5]
band_pct = 0.05

motor_ticks = [10, 20, 30, 40, 50]
total_ticks = [10, 20, 30, 40, 50, 60, 70]
frame_ticks = [0.0, 0.2, 0.4, 0.6, 0.8, 1.0]
frame_labels = ["0.0", "0.2", "0.4", "0.6", "0.8", "1.0"]

panel_titles = ["motor_UPDRS", "total_UPDRS"]
panel_metrics = ["RMSE=134.85\u00a0\u00a0\u00a0|\u00a0\u00a0\u00a0R\u00b2=0.76",
                 "RMSE=172.25\u00a0\u00a0\u00a0|\u00a0\u00a0\u00a0R\u00b2=0.78"]
suptitle = ["Actual vs Predicted", "GradientBoosting100"]
band_name = "ErrorBand (\u00b15%)"

# ---------------- layout geometry (pixels -> paper) ----------------
def px(x):
    return x / W

def py(y):
    return 1 - y / H

L_DOM = [px(270), px(1030.9)]
R_DOM = [px(1183.1), px(1944)]
F_DOM = [px(270), px(1944)]
Y_DOM = [py(897), py(121)]

fig = go.Figure()

# background (figure-level) axes: empty trace
fig.add_trace(go.Scatter(x=[None], y=[None], xaxis="x", yaxis="y",
                         showlegend=False, hoverinfo="skip"))

def add_panel(xa, ya, actual, pred, line):
    fig.add_trace(go.Scatter(
        x=actual, y=pred, mode="markers", xaxis=xa, yaxis=ya,
        marker=dict(size=8, color="navy", opacity=0.4, line=dict(width=0)),
        showlegend=False, hoverinfo="skip"))
    x0, x1 = line
    fig.add_trace(go.Scatter(
        x=[x0, x1, x1, x0, x0],
        y=[x0 * (1 - band_pct), x1 * (1 - band_pct), x1 * (1 + band_pct), x0 * (1 + band_pct), x0 * (1 - band_pct)],
        mode="lines", fill="toself", fillcolor="rgba(255,140,0,0.2)",
        line=dict(color="rgba(255,140,0,0.25)", width=2),
        xaxis=xa, yaxis=ya, name=band_name, showlegend=False, hoverinfo="skip"))
    fig.add_trace(go.Scatter(
        x=line, y=line, mode="lines", line=dict(color="lime", width=2),
        xaxis=xa, yaxis=ya, showlegend=False, hoverinfo="skip"))

add_panel("x2", "y2", motor_actual, motor_pred, motor_line)
add_panel("x3", "y3", total_actual, total_pred, total_line)

tickfont = dict(family=FONT, size=20, color="black")
common = dict(ticks="outside", ticklen=7, tickwidth=1.6, tickcolor="black",
              showline=True, linecolor="black", linewidth=1.6, mirror=True,
              zeroline=False, tickfont=tickfont, automargin=False)
grid = dict(showgrid=True, gridcolor="#a8a8a8", gridwidth=1.2, griddash="dot")

fig.update_layout(
    template="none",
    width=W, height=H, autosize=False,
    margin=dict(l=0, r=0, t=0, b=0, pad=0, autoexpand=False),
    paper_bgcolor="white", plot_bgcolor="white",
    font=dict(family=FONT, size=20, color="black"),
    showlegend=False,
    xaxis=dict(domain=F_DOM, anchor="y", range=[0, 1], tickvals=frame_ticks,
               ticktext=frame_labels, showgrid=False, **common),
    yaxis=dict(domain=Y_DOM, anchor="x", range=[0, 1], tickvals=frame_ticks,
               ticktext=frame_labels, showgrid=False, **common),
    xaxis2=dict(domain=L_DOM, anchor="y2", range=[1.2, 53.7], tickvals=motor_ticks, **grid, **common),
    yaxis2=dict(domain=Y_DOM, anchor="x2", range=[1.81, 55.5], tickvals=motor_ticks, **grid, **common),
    xaxis3=dict(domain=R_DOM, anchor="y3", range=[1.44, 74.85], tickvals=total_ticks, **grid, **common),
    yaxis3=dict(domain=Y_DOM, anchor="x3", range=[2.5, 77.3], tickvals=total_ticks, **grid, **common),
)

ann = []
def text(t, x, y, size, angle=0, xanchor="center"):
    ann.append(dict(text=t, x=x, y=y, xref="paper", yref="paper", xanchor=xanchor,
                    yanchor="middle", showarrow=False, textangle=angle,
                    font=dict(family=FONT, size=size, color="black")))

# suptitle
text(suptitle[0], px(1106), py(64.5), 30)
text(suptitle[1], px(1106), py(98), 30)
# panel titles / axis labels
for i, cx in enumerate([650.5, 1563.5]):
    text(panel_titles[i], px(cx), py(72), 24)
    text(panel_metrics[i], px(cx), py(101), 24)
    text("Actual", px(cx), py(946.5), 20)
text("Predicted", px(213.5), py(509), 20, -90)
text("Predicted", px(1125.5), py(509), 20, -90)

# legends drawn as matplotlib-style boxes
def rounded_rect(x0, y0, x1, y1, r):
    rx, ry = r / W, r / H
    X0, X1 = px(x0), px(x1)
    Y0, Y1 = py(y0), py(y1)   # Y0 top, Y1 bottom (paper)
    return (f"M {X0+rx},{Y0} L {X1-rx},{Y0} Q {X1},{Y0} {X1},{Y0-ry} "
            f"L {X1},{Y1+ry} Q {X1},{Y1} {X1-rx},{Y1} L {X0+rx},{Y1} "
            f"Q {X0},{Y1} {X0},{Y1+ry} L {X0},{Y0-ry} Q {X0},{Y0} {X0+rx},{Y0} Z")

shapes = []
for off in [0.0, 913.2]:
    shapes.append(dict(type="path", xref="paper", yref="paper", layer="above",
                       path=rounded_rect(279.8 + off, 130.8, 523.0 + off, 166.0, 6),
                       fillcolor="rgba(255,255,255,0.8)", line=dict(color="#d0d0d0", width=1.6)))
    shapes.append(dict(type="rect", xref="paper", yref="paper", layer="above",
                       x0=px(287 + off), x1=px(328.5 + off), y0=py(154.3), y1=py(139.3),
                       fillcolor="rgba(255,140,0,0.2)", line=dict(color="rgba(255,140,0,0.3)", width=1.6)))
    text(band_name, px(345 + off), py(147.5), 20, xanchor="left")

fig.update_layout(annotations=ann, shapes=shapes)

fig.write_html("out.html", config={"displayModeBar": False},
               post_script="document.body.style.margin='0px';document.body.style.overflow='hidden';")
